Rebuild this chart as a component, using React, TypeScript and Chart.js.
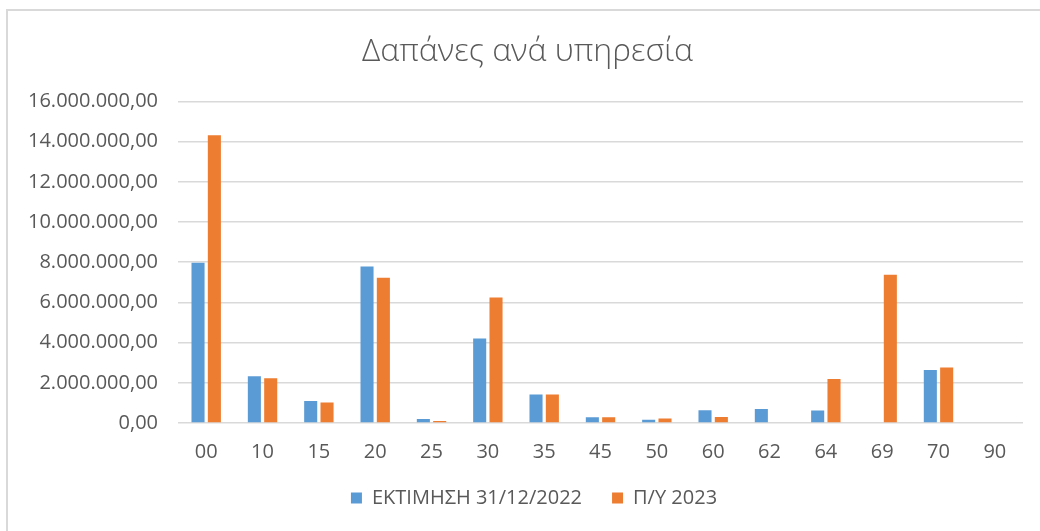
import React, { useEffect, useRef } from "react";
import { Chart, registerables } from "chart.js";

Chart.register(...registerables);

const categories = ["00", "10", "15", "20", "25", "30", "35", "45", "50", "60", "62", "64", "69", "70", "90"];
const estimate2022 = [7970000, 2330000, 1090000, 7780000, 200000, 4210000, 1420000, 290000, 160000, 630000, 700000, 620000, 0, 2640000, 0];
const budget2023 = [14310000, 2230000, 1020000, 7230000, 100000, 6240000, 1420000, 290000, 230000, 300000, 0, 2190000, 7380000, 2760000, 0];
const seriesNames = ["ΕΚΤΙΜΗΣΗ 31/12/2022", "Π/Υ 2023"];
const titleText = "Δαπάνες ανά υπηρεσία";

function formatGreek(v: number): string {
  const fixed = Math.abs(v).toFixed(2);
  const [intPart, dec] = fixed.split(".");
  const withDots = intPart.replace(/\B(?=(\d{3})+(?!\d))/g, ".");
  return (v < 0 ? "-" : "") + withDots + "," + dec;
}

const shiftBlocks = {
  id: "shiftBlocks",
  afterLayout(chart: any) {
    if (chart.titleBlock) chart.titleBlock.left += 24;
    if (chart.legend) chart.legend.left += 37;
  },
};

export default function App() {
  const ref = useRef<HTMLCanvasElement | null>(null);
  useEffect(() => {
    document.body.style.margin = "0";
    const ctx = ref.current!;
    const font = "'Open Sans', 'Liberation Sans', sans-serif";
    const chart = new Chart(ctx, {
      type: "bar",
      data: {
        labels: categories,
        datasets: [
          {
            label: seriesNames[0],
            data: estimate2022,
            backgroundColor: "#5B9BD5",
            borderWidth: 0,
            barPercentage: 0.8,
            categoryPercentage: 0.58,
          },
          {
            label: seriesNames[1],
            data: budget2023,
            backgroundColor: "#ED7D31",
            borderWidth: 0,
            barPercentage: 0.8,
            categoryPercentage: 0.58,
          },
        ],
      },
      plugins: [shiftBlocks],
      options: {
        animation: false,
        responsive: false,
        maintainAspectRatio: false,
        layout: { padding: { left: 8, right: 17, top: 0, bottom: 13 } },
        plugins: {
          title: {
            display: true,
            text: titleText,
            color: "#595959",
            font: { family: font, size: 32, weight: "300" as any },
            padding: { top: 33, bottom: 30 },
          },
          legend: {
            position: "bottom",
            labels: {
              color: "#595959",
              font: { family: font, size: 20 },
              boxWidth: 11,
              boxHeight: 11,
              padding: 30,
            },
          },
          tooltip: { enabled: false },
        },
        scales: {
          x: {
            grid: { display: false },
            border: { display: false },
            ticks: { color: "#595959", font: { family: font, size: 20 }, padding: 9 },
            afterFit: (scale: any) => {
              scale.height = 35;
            },
          },
          y: {
            min: 0,
            max: 16000000,
            grid: { color: "#d9d9d9", lineWidth: 1.6, drawTicks: false },
            border: { display: false },
            ticks: {
              stepSize: 2000000,
              color: "#595959",
              font: { family: font, size: 20 },
              padding: 20,
              callback: (v: any) => formatGreek(Number(v)),
            },
          },
        },
      },
    });
    return () => chart.destroy();
  }, []);
  return (
    <div style={{ position: "relative", width: 1040, height: 531, overflow: "hidden", background: "#fff" }}>
      <canvas ref={ref} width={1040} height={531} style={{ position: "absolute", left: 0, top: 0 }} />
      <div
        style={{
          position: "absolute",
          left: 6,
          top: 9,
          width: 1100,
          height: 600,
          borderLeft: "2px solid #d9d9d9",
          borderTop: "2px solid #d9d9d9",
          pointerEvents: "none",
        }}
      />
    </div>
  );
}
